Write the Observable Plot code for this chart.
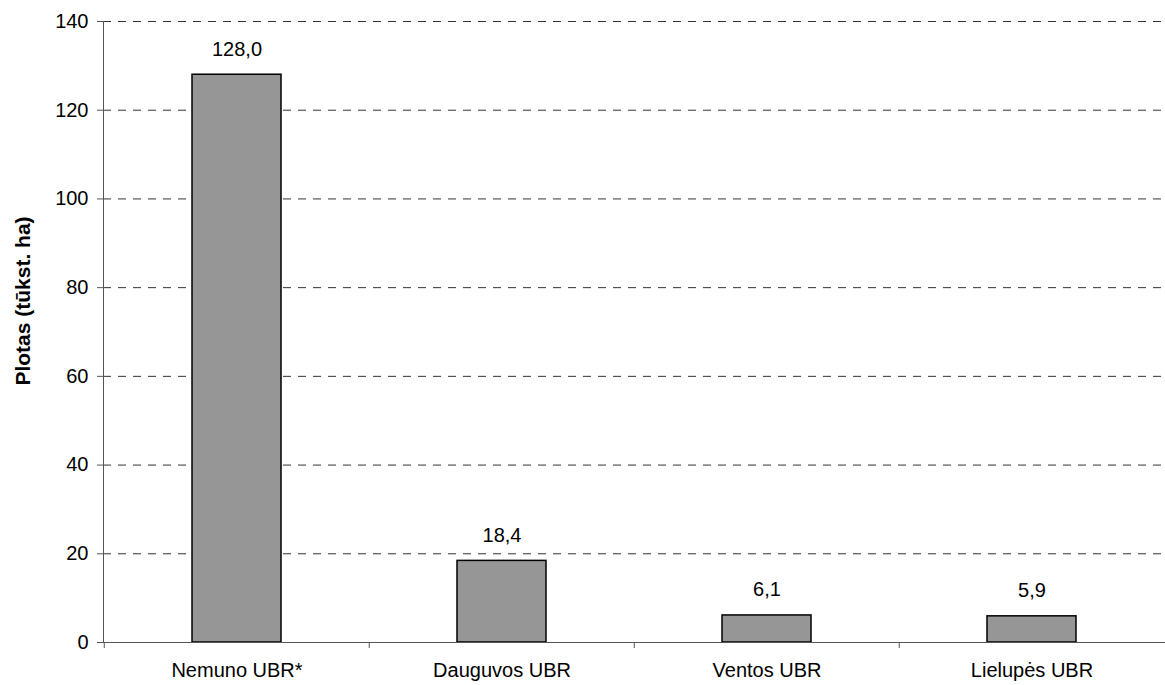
<!DOCTYPE html>
<html><head><meta charset="utf-8">
<script src="https://cdn.jsdelivr.net/npm/d3@7"></script>
<script src="https://cdn.jsdelivr.net/npm/@observablehq/plot@0.6"></script>
<style>body{margin:0;background:#fff;font-family:"Liberation Sans",Arial,sans-serif;}</style>
</head><body><div id="chart"></div>
<script>
const categories = ["Nemuno UBR*", "Dauguvos UBR", "Ventos UBR", "Lielupės UBR"];
const values = [128.0, 18.4, 6.1, 5.9];
const yTicks = [0, 20, 40, 60, 80, 100, 120, 140];
const gridTicks = [20, 40, 60, 80, 100, 120, 140];
const yTitle = "Plotas (tūkst. ha)";

const data = categories.map((c, i) => ({cat: c, v: values[i]}));
const W = 1165, H = 685, mL = 103, mR = 0;
const step = (W - mL - mR) / categories.length;
const fmt = v => v.toFixed(1).replace(".", ",");

const chart = Plot.plot({
  width: W, height: H,
  marginLeft: mL, marginRight: mR, marginTop: 21, marginBottom: 43,
  style: {fontFamily: '"Liberation Sans", Arial, sans-serif', fontSize: "20px", color: "#000", background: "#fff", overflow: "visible"},
  x: {domain: categories, paddingInner: 0.665, paddingOuter: 0.3325, label: null},
  y: {domain: [0, 140], label: null},
  marks: [
    Plot.ruleY(gridTicks, {stroke: "#333", strokeWidth: 1, strokeDasharray: "8,7"}),
    Plot.barY(data, {x: "cat", y: "v", fill: "#969696", stroke: "#000", strokeWidth: 1.5}),
    Plot.text(data, {x: "cat", y: "v", text: d => fmt(d.v), lineAnchor: "bottom", dy: -19, fontSize: 20, fill: "#000"}),
    Plot.ruleY([0], {stroke: "#555", strokeWidth: 1}),
    Plot.frame({anchor: "left", stroke: "#555", strokeWidth: 1}),
    Plot.axisY({ticks: yTicks, tickSize: 6, tickPadding: 9, fontSize: 20, stroke: "#555", label: null}),
    Plot.axisX({ticks: categories, tickSize: 6, stroke: "#555", dx: -step/2, text: null, label: null}),
    Plot.axisX({ticks: categories, tickSize: 0, tickPadding: 20, fontSize: 20, label: null})
  ]
});
d3.select(chart).append("text")
  .attr("transform", "translate(22,301) rotate(-90)")
  .attr("text-anchor", "middle")
  .attr("dominant-baseline", "central")
  .attr("font-weight", "bold")
  .attr("font-size", 21)
  .attr("fill", "#000")
  .text(yTitle);
document.getElementById("chart").appendChild(chart);
</script>
</body></html>
